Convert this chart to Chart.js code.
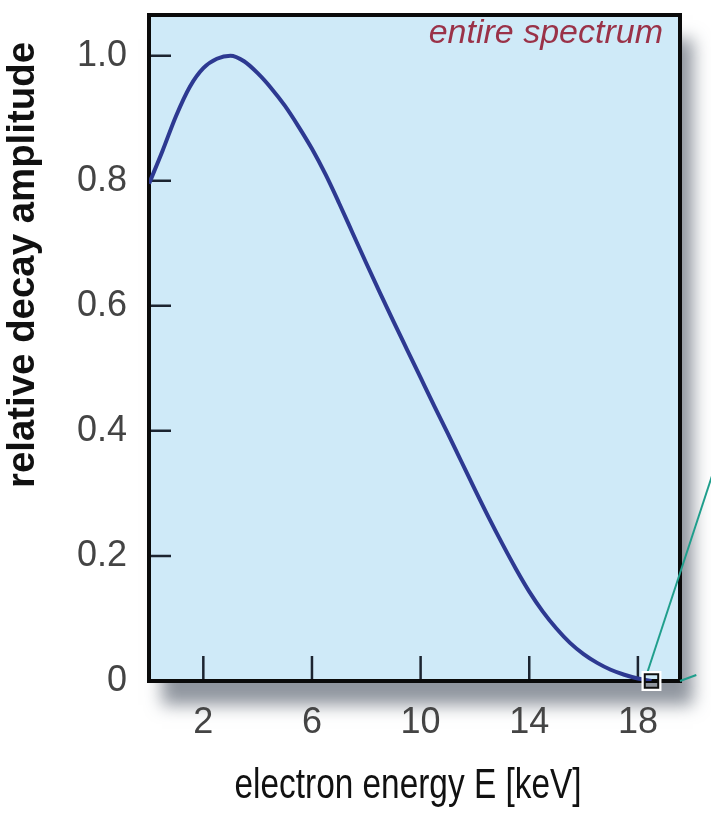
<!DOCTYPE html>
<html>
<head>
<meta charset="utf-8">
<script src="https://cdn.jsdelivr.net/npm/chart.js@4.4.1/dist/chart.umd.min.js"></script>
<style>
  html, body { margin: 0; padding: 0; background: #ffffff; }
  canvas { display: block; }
</style>
</head>
<body>
<canvas id="chart" width="711" height="814"></canvas>
<script>
// Tritium beta spectrum: electron energy (keV) and relative decay amplitude
const energyKeV = [0, 0.5, 1.0, 1.5, 2.0, 2.5, 3.0, 3.5, 4.0, 4.5, 5.0, 5.5, 6.0, 6.5, 7.0,
  7.5, 8.0, 8.5, 9.0, 9.5, 10.0, 10.5, 11.0, 11.5, 12.0, 12.5, 13.0, 13.5, 14.0, 14.5,
  15.0, 15.5, 16.0, 16.5, 17.0, 17.5, 18.0, 18.5];
const amplitude = [0.795, 0.848, 0.904, 0.950, 0.980, 0.995, 1.000, 0.991, 0.972, 0.948,
  0.920, 0.887, 0.851, 0.810, 0.764, 0.716, 0.668, 0.621, 0.575, 0.530, 0.485, 0.440,
  0.396, 0.351, 0.306, 0.262, 0.220, 0.180, 0.143, 0.111, 0.084, 0.061, 0.043, 0.029,
  0.018, 0.010, 0.004, 0.000];

// endpoint region marker
const endpointX = [18.5];
const endpointY = [0];

// connector lines leading out towards the endpoint close-up
const upperConnectorX = [18.35, 21.5];
const upperConnectorY = [0.014, 0.43];
const lowerConnectorX = [19.55, 20.15, 21.5];
const lowerConnectorY = [0.0, 0.0095, 0.014];

// axes
const xTicks = [2, 6, 10, 14, 18];
const xTickLabels = ['2', '6', '10', '14', '18'];
const yTicks = [0, 0.2, 0.4, 0.6, 0.8, 1.0];
const yTickLabels = ['0', '0.2', '0.4', '0.6', '0.8', '1.0'];
const xRange = [0, 19.55];
const yRange = [0, 1.065];

const xTitle = 'electron energy E [keV]';
const yTitle = 'relative decay amplitude';
const panelNote = 'entire spectrum';

const toPoints = (xs, ys) => xs.map((x, i) => ({ x: x, y: ys[i] }));

const PANEL_BG = '#cfeaf8';
const TICK_FONT = "'Liberation Sans Narrow', 'Liberation Sans', Arial, sans-serif";

const framePlugin = {
  id: 'frame',
  beforeDraw(chart) {
    const { ctx, chartArea: a } = chart;
    ctx.save();
    ctx.fillStyle = '#ffffff';
    ctx.fillRect(0, 0, chart.width, chart.height);
    // drop shadow behind the panel
    ctx.shadowColor = 'rgba(70, 80, 95, 0.6)';
    ctx.shadowBlur = 16;
    ctx.shadowOffsetX = 13;
    ctx.shadowOffsetY = 24;
    ctx.fillStyle = PANEL_BG;
    ctx.fillRect(a.left, a.top, a.right - a.left, a.bottom - a.top);
    ctx.restore();
  },
  beforeDatasetsDraw(chart) {
    const { ctx, chartArea: a, scales } = chart;
    ctx.save();
    // inward tick marks
    ctx.strokeStyle = '#1c2430';
    ctx.lineWidth = 2.5;
    ctx.beginPath();
    scales.x.ticks.forEach(t => {
      const px = scales.x.getPixelForValue(t.value);
      ctx.moveTo(px, a.bottom);
      ctx.lineTo(px, a.bottom - 25);
    });
    scales.y.ticks.forEach(t => {
      const py = scales.y.getPixelForValue(t.value);
      ctx.moveTo(a.left, py);
      ctx.lineTo(a.left + 22, py);
    });
    ctx.stroke();
    // panel frame
    ctx.strokeStyle = '#0a0a0a';
    ctx.lineWidth = 4;
    ctx.strokeRect(a.left, a.top, a.right - a.left, a.bottom - a.top);
    ctx.restore();
  },
  afterDraw(chart) {
    const { ctx } = chart;
    ctx.save();
    ctx.fillStyle = '#111111';
    // x axis title
    ctx.font = "42px 'Liberation Sans', Arial, sans-serif";
    ctx.textAlign = 'center';
    ctx.textBaseline = 'alphabetic';
    ctx.fillText(xTitle, 408, 798, 347);
    // y axis title
    ctx.save();
    ctx.translate(34, 265);
    ctx.rotate(-Math.PI / 2);
    ctx.font = "bold 39px 'Liberation Sans', Arial, sans-serif";
    ctx.fillText(yTitle, 0, 0, 446);
    ctx.restore();
    // panel annotation
    ctx.fillStyle = '#9a3248';
    ctx.font = "italic 34px 'Liberation Sans', Arial, sans-serif";
    ctx.textAlign = 'right';
    ctx.fillText(panelNote, 663, 43, 248);
    ctx.restore();
  }
};

new Chart(document.getElementById('chart').getContext('2d'), {
  type: 'line',
  data: {
    datasets: [
      {
        label: 'endpoint',
        data: toPoints(endpointX, endpointY),
        showLine: false,
        pointStyle: 'rect',
        pointRadius: 9.5,
        borderColor: '#111111',
        borderWidth: 2,
        backgroundColor: 'rgba(0,0,0,0)',
        clip: false,
        order: 0
      },
      {
        label: 'endpoint halo',
        data: toPoints(endpointX, endpointY),
        showLine: false,
        pointStyle: 'rect',
        pointRadius: 12,
        borderColor: '#ffffff',
        borderWidth: 3,
        backgroundColor: 'rgba(0,0,0,0)',
        clip: false,
        order: 1
      },
      {
        label: 'spectrum',
        data: toPoints(energyKeV, amplitude),
        borderColor: '#2d3991',
        borderWidth: 4,
        pointRadius: 0,
        cubicInterpolationMode: 'monotone',
        fill: false,
        order: 2
      },
      {
        label: 'upper connector',
        data: toPoints(upperConnectorX, upperConnectorY),
        borderColor: '#1f9e8c',
        borderWidth: 2,
        pointRadius: 0,
        tension: 0,
        clip: false,
        order: 3
      },
      {
        label: 'lower connector',
        data: toPoints(lowerConnectorX, lowerConnectorY),
        borderColor: '#1f9e8c',
        borderWidth: 2,
        pointRadius: 0,
        tension: 0,
        clip: false,
        order: 4
      }
    ]
  },
  options: {
    responsive: false,
    animation: false,
    events: [],
    layout: { padding: { top: 10, right: 31, left: 0, bottom: 0 } },
    plugins: { legend: { display: false }, tooltip: { enabled: false } },
    scales: {
      x: {
        type: 'linear',
        min: xRange[0],
        max: xRange[1],
        grid: { display: false, drawTicks: false },
        border: { display: false },
        afterBuildTicks: s => { s.ticks = xTicks.map(v => ({ value: v })); },
        afterFit: s => { s.height = 133; s.paddingLeft = 0; s.paddingRight = 0; },
        ticks: {
          padding: 20,
          color: '#444444',
          autoSkip: false,
          maxRotation: 0,
          font: { family: TICK_FONT, size: 36 },
          callback: (v, i) => xTickLabels[i]
        }
      },
      y: {
        type: 'linear',
        min: yRange[0],
        max: yRange[1],
        grid: { display: false, drawTicks: false },
        border: { display: false },
        afterBuildTicks: s => { s.ticks = yTicks.map(v => ({ value: v })); },
        afterFit: s => { s.width = 149; s.paddingTop = 0; s.paddingBottom = 0; },
        ticks: {
          padding: 22,
          color: '#444444',
          autoSkip: false,
          font: { family: TICK_FONT, size: 36 },
          callback: (v, i) => yTickLabels[i]
        }
      }
    }
  },
  plugins: [framePlugin]
});
</script>
</body>
</html>
